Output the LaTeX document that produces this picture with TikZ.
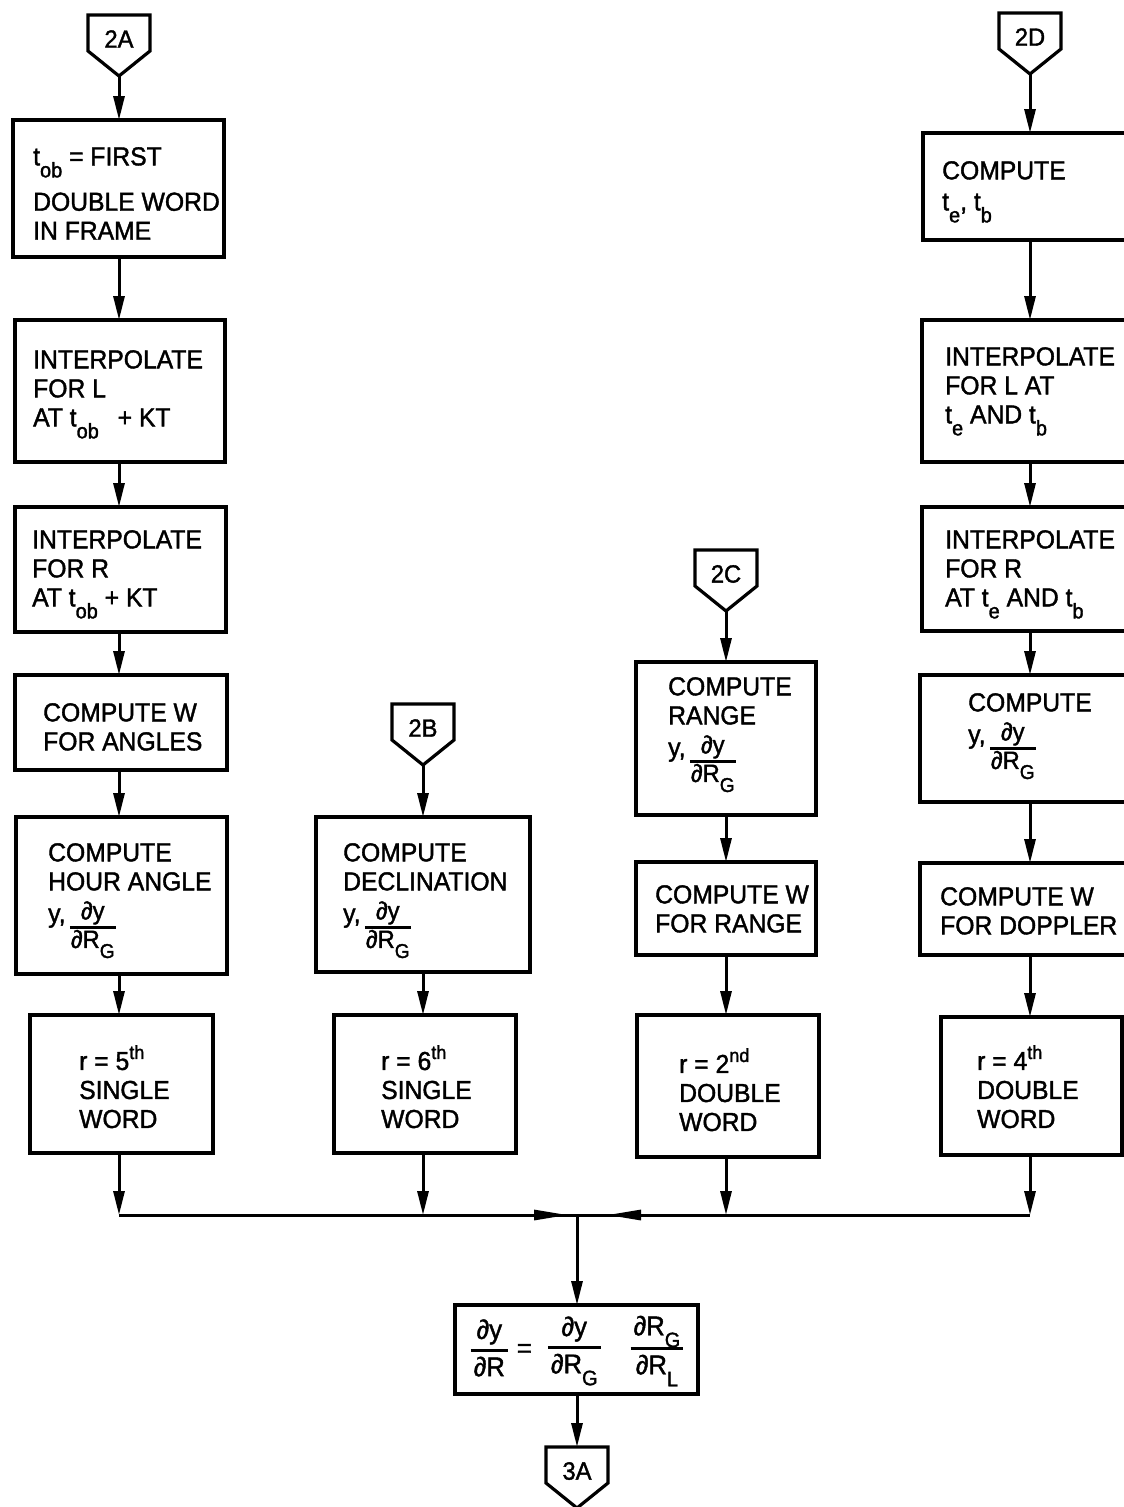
\documentclass[tikz,border=0pt]{standalone}
\usepackage{fontspec}
\setmainfont{Liberation Sans}[FakeStretch=0.95,FakeBold=1.5]
\usetikzlibrary{arrows.meta,fit}
\newcommand{\sbs}[1]{\raisebox{-12pt}{\fontsize{21}{21}\selectfont #1}}
\newcommand{\fsb}[1]{\raisebox{-10pt}{\fontsize{20}{20}\selectfont #1}}
\newcommand{\fsbb}[1]{\raisebox{-12pt}{\fontsize{21}{21}\selectfont #1}}
\newcommand{\sps}[1]{\raisebox{11pt}{\fontsize{19}{19}\selectfont #1}}
\newcommand{\frt}[2]{\raisebox{3pt}{\fontsize{25}{25}\selectfont\setlength{\arrayrulewidth}{2.6pt}\renewcommand{\arraystretch}{0.8}\setlength{\tabcolsep}{1pt}\begin{tabular}[t]{c}#1\\[1pt]\hline\rule{0pt}{19pt}#2\end{tabular}}}
\newcommand{\frc}[2]{{\fontsize{27}{27}\selectfont\setlength{\arrayrulewidth}{2.8pt}\renewcommand{\arraystretch}{0.8}\setlength{\tabcolsep}{3pt}\begin{tabular}[c]{c}#1\\[4pt]\hline\rule{0pt}{24pt}#2\end{tabular}}}
\newcommand{\offpg}[4]{%
  \draw[line width=3.2pt, line join=miter] (#2-31,#3) -- (#2+31,#3) -- (#2+31,#3+36) -- (#2,#3+61) -- (#2-31,#3+36) -- cycle;
  \node[lbl] (#1) at (#2,#3+24) {#4};
  \coordinate (#1top) at (#2,#3);
  \coordinate (#1tip) at (#2,#3+61);}
\begin{document}
\begin{tikzpicture}[x=1pt,y=-1pt,
  box/.style={draw, line width=3.4pt, inner sep=0pt, outer sep=0pt},
  txt/.style={anchor=north west, inner sep=0pt, align=left, font=\fontsize{26}{29}\selectfont},
  lbl/.style={inner sep=0pt, font=\fontsize{25}{25}\selectfont},
  conn/.style={line width=3pt, -{Triangle[length=24pt,width=11pt]}},
  hconn/.style={line width=3pt, -{Triangle[length=34pt,width=10pt]}},
  plain/.style={line width=3pt}]
\useasboundingbox (0,0) rectangle (1124,1507);

% column coordinates
\coordinate (ca) at (119,0);
\coordinate (cb) at (423,0);
\coordinate (cc) at (726,0);
\coordinate (cd) at (1030,0);
\coordinate (cm) at (577,0);

% off-page connectors
\offpg{pa}{119}{15}{2A}
\offpg{pb}{423}{704}{2B}
\offpg{pc}{726}{550}{2C}
\offpg{pd}{1030}{13}{2D}
\offpg{pz}{577}{1447}{3A}

% boxes
\node[box, fit={(13,120) (224,257)}] (a1) {};
\node[box, fit={(15,320) (225,462)}] (a2) {};
\node[box, fit={(15,507) (226,632)}] (a3) {};
\node[box, fit={(15,675) (227,770)}] (a4) {};
\node[box, fit={(16,817) (227,974)}] (a5) {};
\node[box, fit={(30,1015) (213,1153)}] (a6) {};
\node[box, fit={(316,817) (530,972)}] (b5) {};
\node[box, fit={(334,1015) (516,1153)}] (b6) {};
\node[box, fit={(636,662) (816,815)}] (c4) {};
\node[box, fit={(636,862) (816,955)}] (c5) {};
\node[box, fit={(637,1015) (819,1157)}] (c6) {};
\node[box, fit={(923,133) (1140,240)}] (d1) {};
\node[box, fit={(922,320) (1140,462)}] (d2) {};
\node[box, fit={(922,507) (1140,631)}] (d3) {};
\node[box, fit={(920,675) (1140,802)}] (d4) {};
\node[box, fit={(920,863) (1140,955)}] (d5) {};
\node[box, fit={(941,1017) (1122,1155)}] (d6) {};
\node[box, fit={(455,1305) (698,1394)}] (fm) {};

% texts
\node[txt] (a1x) at (33,147) {t\sbs{ob} = FIRST\\[14pt]DOUBLE WORD\\IN FRAME};
\node[txt] (a2x) at (33,350) {INTERPOLATE\\FOR L\\AT t\sbs{ob}\hspace{12pt} + KT};
\node[txt] (a3x) at (32,530) {INTERPOLATE\\FOR R\\AT t\sbs{ob} + KT};
\node[txt] (a4x) at (43,703) {COMPUTE W\\FOR ANGLES};
\node[txt] (a5x) at (48,843) {COMPUTE\\HOUR ANGLE\\[3pt]y,\,\frt{∂y}{∂R\fsb{G}}};
\node[txt] (a6x) at (79,1045) {r = 5\sps{th}\\SINGLE\\WORD};
\node[txt] (b5x) at (343,843) {COMPUTE\\DECLINATION\\[3pt]y,\,\frt{∂y}{∂R\fsb{G}}};
\node[txt] (b6x) at (381,1045) {r = 6\sps{th}\\SINGLE\\WORD};
\node[txt] (c4x) at (668,677) {COMPUTE\\RANGE\\[3pt]y,\,\frt{∂y}{∂R\fsb{G}}};
\node[txt] (c5x) at (655,885) {COMPUTE W\\FOR RANGE};
\node[txt] (c6x) at (679,1048) {r = 2\sps{nd}\\DOUBLE\\WORD};
\node[txt] (d1x) at (942,161) {COMPUTE\\[2pt]t\sbs{e}, t\sbs{b}};
\node[txt] (d2x) at (945,347) {INTERPOLATE\\FOR L AT\\t\sbs{e} AND t\sbs{b}};
\node[txt] (d3x) at (945,530) {INTERPOLATE\\FOR R\\AT t\sbs{e} AND t\sbs{b}};
\node[txt] (d4x) at (968,693) {COMPUTE\\[3pt]y,\,\frt{∂y}{∂R\fsb{G}}};
\node[txt] (d5x) at (940,887) {COMPUTE W\\FOR DOPPLER};
\node[txt] (d6x) at (977,1045) {r = 4\sps{th}\\DOUBLE\\WORD};
\node[inner sep=0pt, font=\fontsize{27}{30}\selectfont] (fmx) at (577,1351)
  {\frc{∂y}{∂R}\hspace{9pt}=\hspace{16pt}\frc{∂y}{∂R\fsbb{G}}\hspace{30pt}\frc{∂R\fsbb{G}}{∂R\fsbb{L}}};

% junction coordinates
\coordinate (ja) at (119,1215);
\coordinate (jb) at (423,1215);
\coordinate (jc) at (726,1215);
\coordinate (jd) at (1030,1215);
\coordinate (jm) at (577,1215);
\coordinate (jl) at (568,1215);
\coordinate (jr) at (607,1215);

% column A
\draw[conn] (patip) -- (a1.north -| ca);
\draw[conn] (a1.south -| ca) -- (a2.north -| ca);
\draw[conn] (a2.south -| ca) -- (a3.north -| ca);
\draw[conn] (a3.south -| ca) -- (a4.north -| ca);
\draw[conn] (a4.south -| ca) -- (a5.north -| ca);
\draw[conn] (a5.south -| ca) -- (a6.north -| ca);
\draw[conn] (a6.south -| ca) -- (ja);
% column B
\draw[conn] (pbtip) -- (b5.north -| cb);
\draw[conn] (b5.south -| cb) -- (b6.north -| cb);
\draw[conn] (b6.south -| cb) -- (jb);
% column C
\draw[conn] (pctip) -- (c4.north -| cc);
\draw[conn] (c4.south -| cc) -- (c5.north -| cc);
\draw[conn] (c5.south -| cc) -- (c6.north -| cc);
\draw[conn] (c6.south -| cc) -- (jc);
% column D
\draw[conn] (pdtip) -- (d1.north -| cd);
\draw[conn] (d1.south -| cd) -- (d2.north -| cd);
\draw[conn] (d2.south -| cd) -- (d3.north -| cd);
\draw[conn] (d3.south -| cd) -- (d4.north -| cd);
\draw[conn] (d4.south -| cd) -- (d5.north -| cd);
\draw[conn] (d5.south -| cd) -- (d6.north -| cd);
\draw[conn] (d6.south -| cd) -- (jd);
% junction
\draw[plain] (ja) -- (jd);
\draw[hconn] (jb) -- (jl);
\draw[hconn] (jc) -- (jr);
\draw[conn] (jm) -- (fm.north -| cm);
\draw[conn] (fm.south -| cm) -- (pztop);
\end{tikzpicture}
\end{document}
